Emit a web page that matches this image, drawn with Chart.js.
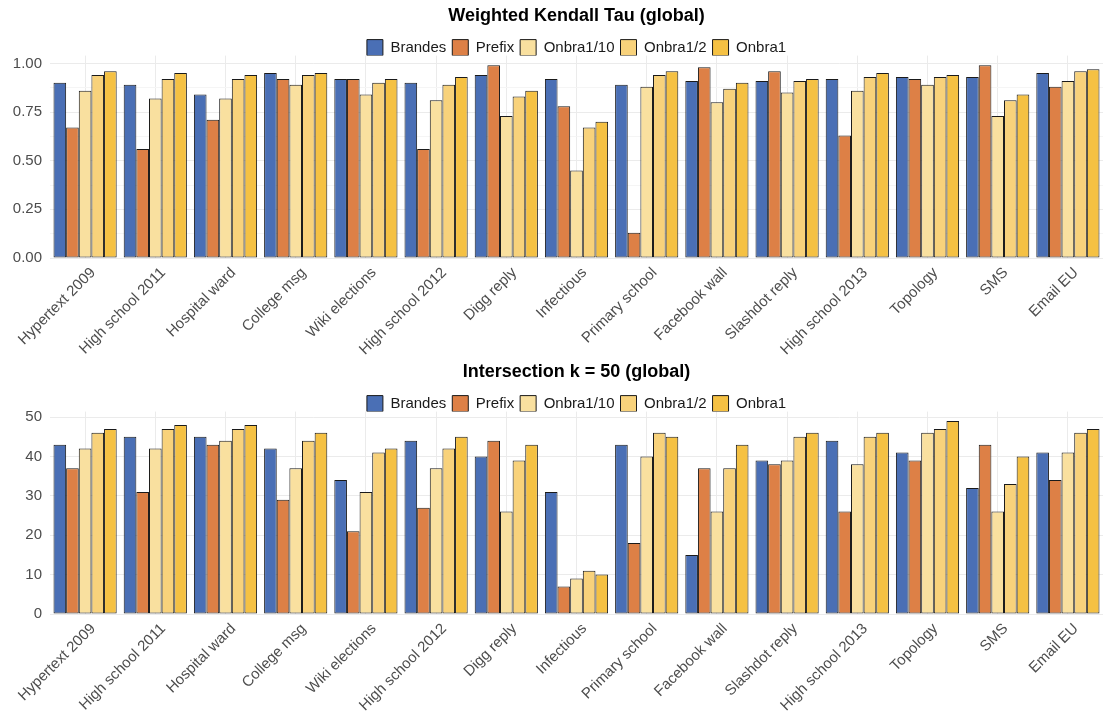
<!DOCTYPE html>
<html>
<head>
<meta charset="utf-8">
<script src="https://cdn.jsdelivr.net/npm/chart.js@4.4.0/dist/chart.umd.min.js"></script>
<style>
  body { margin: 0; background: #fff; }
  .panel { position: absolute; left: 0; width: 1107px; height: 355px; }
</style>
</head>
<body>
<div class="panel" style="top:0"><canvas id="kendall-chart" width="1107" height="355"></canvas></div>
<div class="panel" style="top:356px"><canvas id="inter-chart" width="1107" height="355"></canvas></div>
<script>
// Datasets (networks)
var categories = ['Hypertext 2009', 'High school 2011', 'Hospital ward', 'College msg', 'Wiki elections',
    'High school 2012', 'Digg reply', 'Infectious', 'Primary school', 'Facebook wall',
    'Slashdot reply', 'High school 2013', 'Topology', 'SMS', 'Email EU'];
var seriesNames = ['Brandes', 'Prefix', 'Onbra1/10', 'Onbra1/2', 'Onbra1'];
var seriesColors = ['#4a6fb5', '#dd8046', '#f9e09f', '#f8d27b', '#f5c143'];

// Weighted Kendall Tau
var kendallBrandes  = [0.90, 0.89, 0.84, 0.95, 0.92, 0.90, 0.94, 0.92, 0.89, 0.91, 0.91, 0.92, 0.93, 0.93, 0.95];
var kendallPrefix   = [0.67, 0.56, 0.71, 0.92, 0.92, 0.56, 0.99, 0.78, 0.13, 0.98, 0.96, 0.63, 0.92, 0.99, 0.88];
var kendallOnbra10  = [0.86, 0.82, 0.82, 0.89, 0.84, 0.81, 0.73, 0.45, 0.88, 0.80, 0.85, 0.86, 0.89, 0.73, 0.91];
var kendallOnbra2   = [0.94, 0.92, 0.92, 0.94, 0.90, 0.89, 0.83, 0.67, 0.94, 0.87, 0.91, 0.93, 0.93, 0.81, 0.96];
var kendallOnbra1   = [0.96, 0.95, 0.94, 0.95, 0.92, 0.93, 0.86, 0.70, 0.96, 0.90, 0.92, 0.95, 0.94, 0.84, 0.97];

// Intersection k = 50
var interBrandes = [43, 45, 45, 42, 34, 44, 40, 31, 43, 15, 39, 44, 41, 32, 41];
var interPrefix  = [37, 31, 43, 29, 21, 27, 44, 7, 18, 37, 38, 26, 39, 43, 34];
var interOnbra10 = [42, 42, 44, 37, 31, 37, 26, 9, 40, 26, 39, 38, 46, 26, 41];
var interOnbra2  = [46, 47, 47, 44, 41, 42, 39, 11, 46, 37, 45, 45, 47, 33, 46];
var interOnbra1  = [47, 48, 48, 46, 42, 45, 43, 10, 45, 43, 46, 46, 49, 40, 47];

var kendallTicks = [0, 0.25, 0.5, 0.75, 1];
var interTicks = [0, 10, 20, 30, 40, 50];

Chart.defaults.font.family = '"Liberation Sans", Arial, sans-serif';
Chart.defaults.animation = false;

function makeDatasets(values) {
    return values.map(function(v, i) {
        return {
            label: seriesNames[i],
            data: v,
            backgroundColor: seriesColors[i],
            borderColor: '#1a1a1a',
            borderWidth: 1,
            borderSkipped: false,
            categoryPercentage: 0.9,
            barPercentage: 1.0
        };
    });
}

function isMajor(list, v) {
    return list.some(function(t) { return Math.abs(t - v) < 1e-9; });
}

function makeChart(id, title, values, yMax, step, majorTicks, fmt) {
    return new Chart(document.getElementById(id), {
        type: 'bar',
        data: { labels: categories, datasets: makeDatasets(values) },
        options: {
            responsive: false,
            maintainAspectRatio: false,
            layout: { padding: { left: 4, right: 4, top: 5, bottom: 0 } },
            plugins: {
                title: {
                    display: true,
                    fullSize: false,
                    text: title,
                    color: '#000',
                    font: { size: 18, weight: 'bold' },
                    padding: { top: 0, bottom: 7 }
                },
                legend: {
                    display: true,
                    fullSize: false,
                    maxHeight: 22,
                    labels: {
                        color: '#1a1a1a',
                        font: { size: 15 },
                        boxWidth: 16,
                        boxHeight: 16,
                        padding: 6
                    }
                },
                tooltip: { enabled: false }
            },
            scales: {
                x: {
                    grid: { offset: false, color: '#ebebeb', drawTicks: false },
                    border: { display: false },
                    ticks: {
                        color: '#4d4d4d',
                        font: { size: 15 },
                        minRotation: 45,
                        maxRotation: 45,
                        autoSkip: false,
                        padding: 6,
                        labelOffset: 8
                    },
                    afterFit: function(scale) { scale.height = 97; }
                },
                y: {
                    min: 0,
                    max: yMax,
                    grid: {
                        drawTicks: false,
                        color: function(ctx) {
                            return ctx.tick && isMajor(majorTicks, ctx.tick.value) ? '#ebebeb' : '#f5f5f5';
                        }
                    },
                    border: { display: false },
                    ticks: {
                        stepSize: step,
                        includeBounds: false,
                        color: '#4d4d4d',
                        font: { size: 15 },
                        padding: 8,
                        callback: function(value) {
                            return isMajor(majorTicks, value) ? fmt(value) : '';
                        }
                    },
                    afterFit: function(scale) { scale.width = 46; }
                }
            }
        }
    });
}

makeChart('kendall-chart', 'Weighted Kendall Tau (global)',
    [kendallBrandes, kendallPrefix, kendallOnbra10, kendallOnbra2, kendallOnbra1],
    1.04, 0.125, kendallTicks, function(v) { return v.toFixed(2); });

makeChart('inter-chart', 'Intersection k = 50 (global)',
    [interBrandes, interPrefix, interOnbra10, interOnbra2, interOnbra1],
    51.4, 5, interTicks, function(v) { return String(v); });
</script>
</body>
</html>
